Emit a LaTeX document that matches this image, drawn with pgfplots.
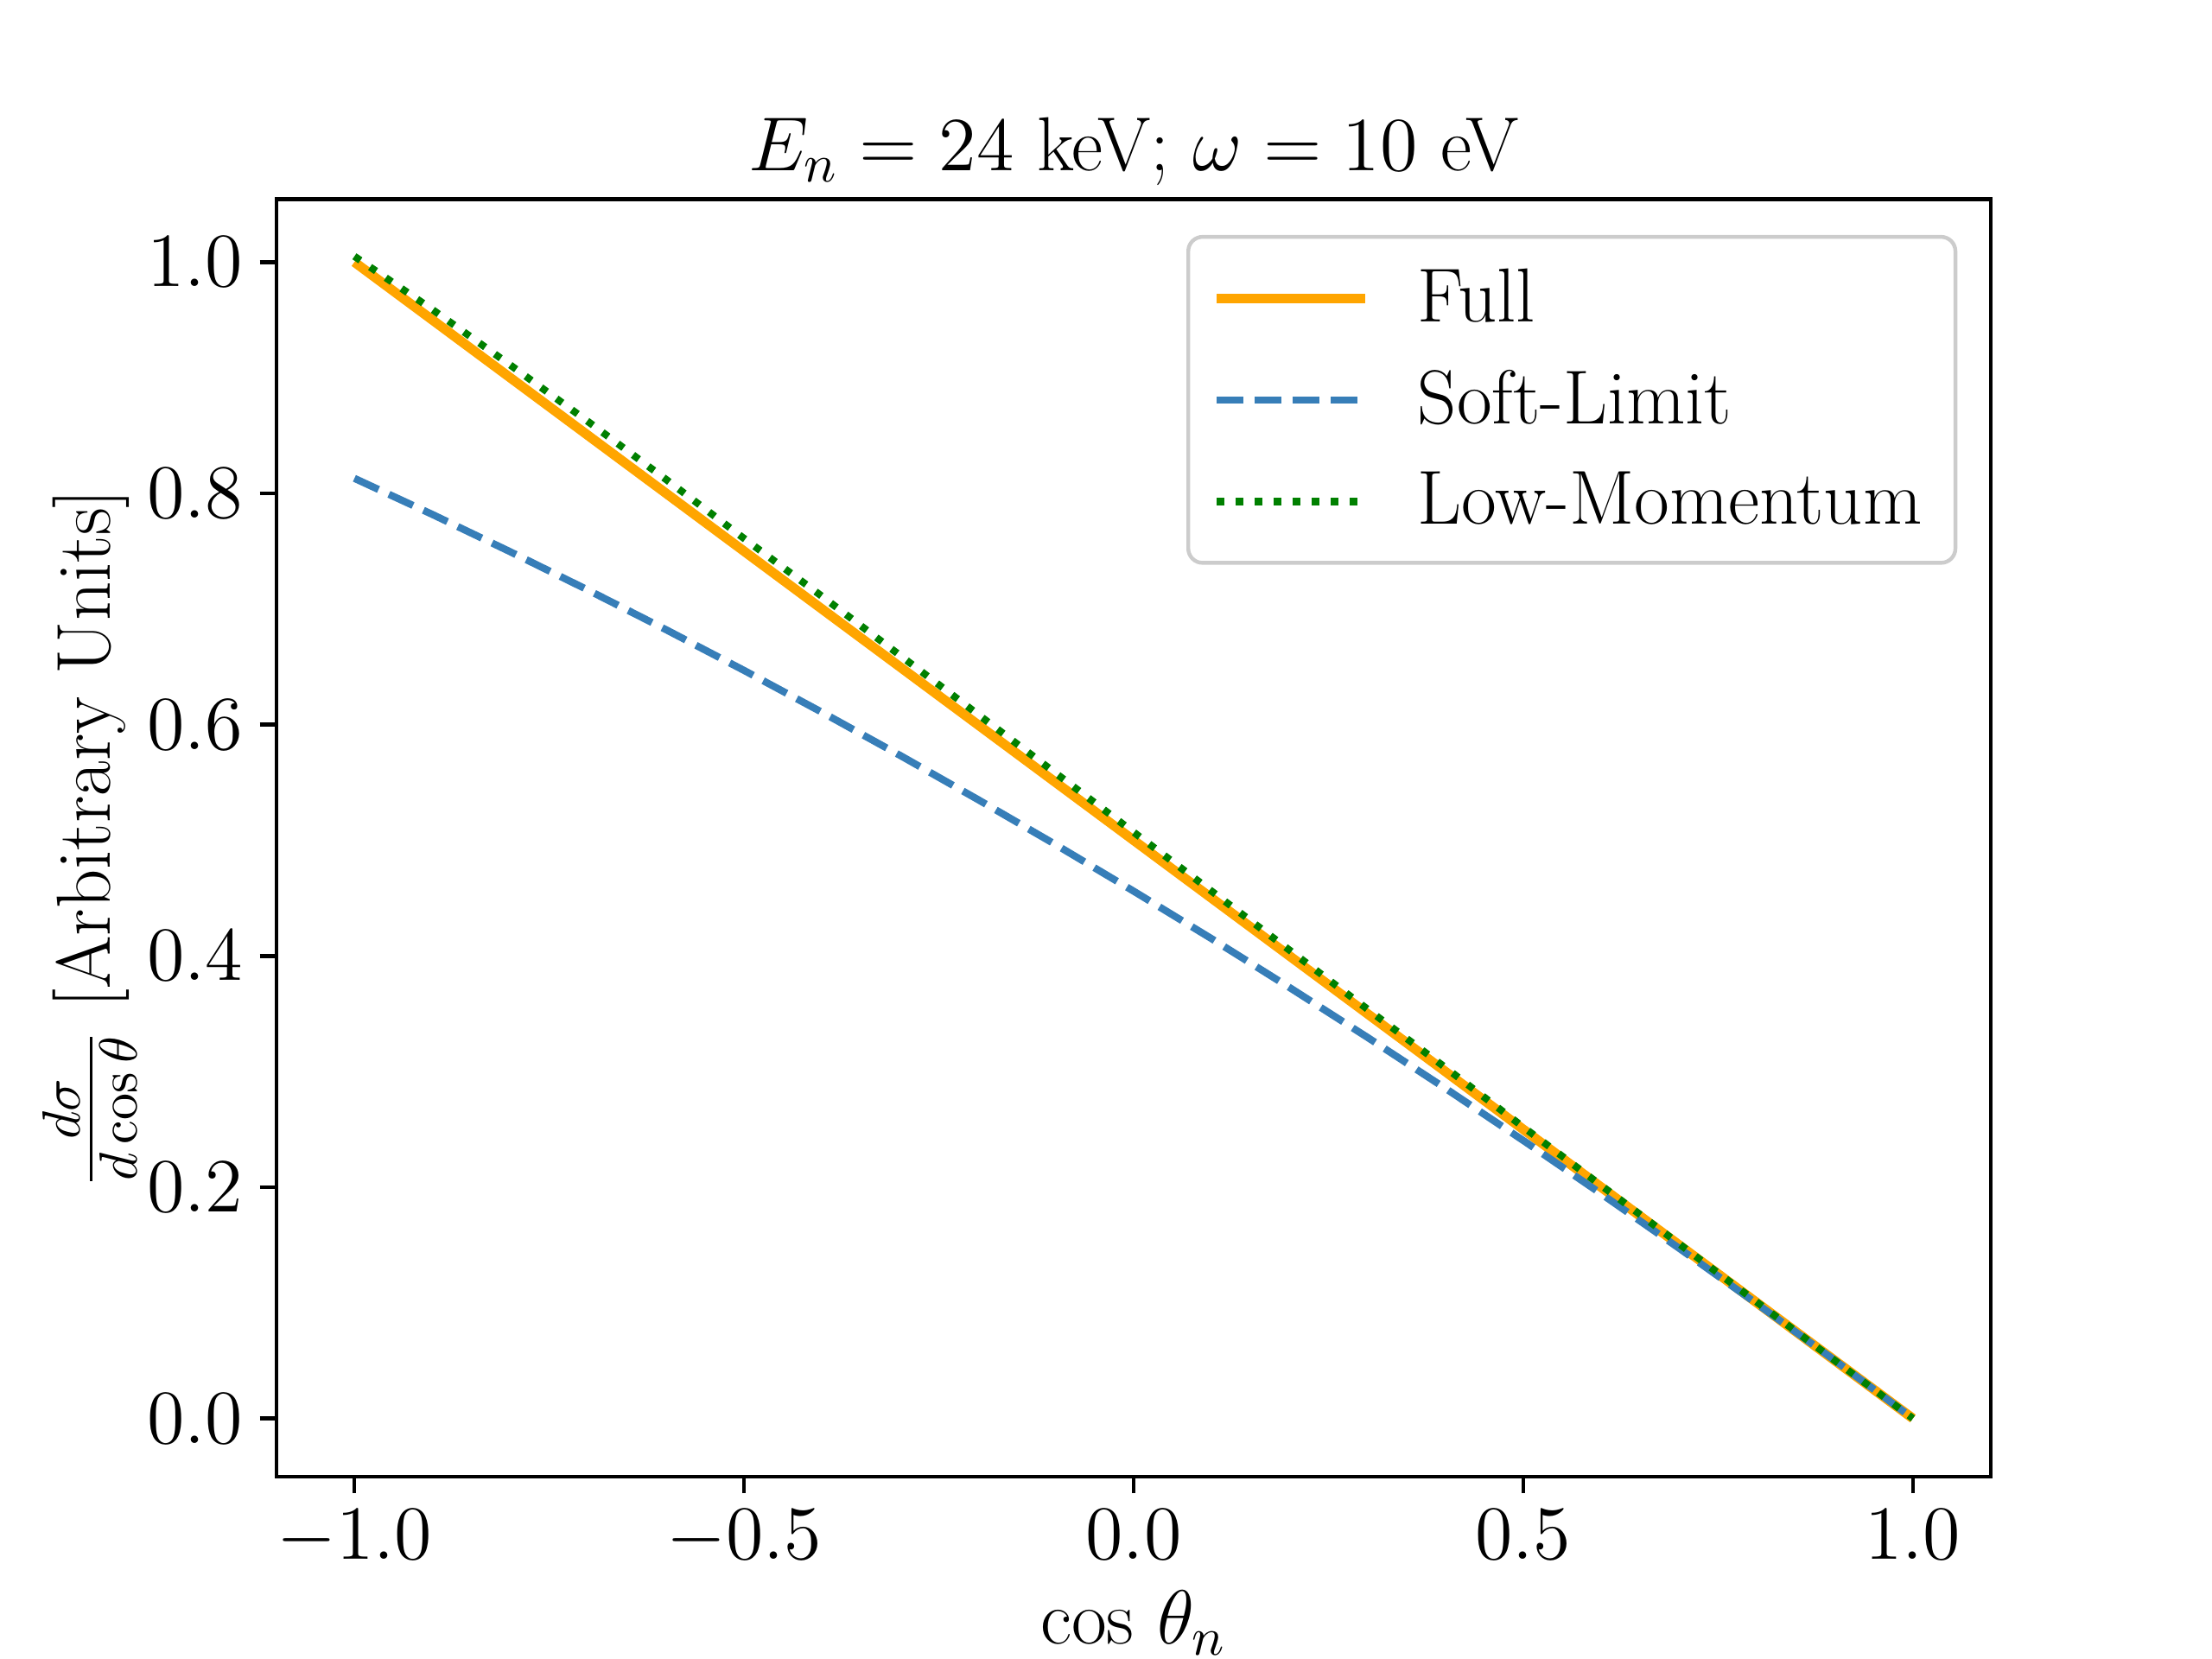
\RequirePackage{fix-cm}
\documentclass[border=0pt]{standalone}
\usepackage{pgfplots}
\pgfplotsset{compat=1.18}
\definecolor{mplorange}{HTML}{FFA500}
\definecolor{mplblue}{HTML}{377EB8}
\definecolor{mplgreen}{HTML}{008000}
\newcommand{\fs}{\fontsize{16}{19.2}\selectfont}
\begin{document}
\begin{tikzpicture}
\useasboundingbox (-0.8in,-0.528in) rectangle (5.6in,4.272in);
\begin{axis}[
  at={(0,0)}, anchor=south west,
  scale only axis, width=4.96in, height=3.696in,
  xmin=-1.1, xmax=1.1, ymin=-0.0502, ymax=1.0545,
  xtick={-1,-0.5,0,0.5,1},
  ytick={0,0.2,0.4,0.6,0.8,1.0},
  xticklabel style={font=\fs,/pgf/number format/.cd,fixed,fixed zerofill,precision=1},
  yticklabel style={font=\fs,/pgf/number format/.cd,fixed,fixed zerofill,precision=1},
  tick align=outside,
  major tick length=3.5pt,
  every tick/.style={black, line width=0.8pt},
  xtick pos=bottom, ytick pos=left,
  axis line style={line width=0.8pt},
  title={$E_n = 24$ keV; $\omega = 10$ eV},
  title style={font=\fs, at={(axis description cs:0.5,1)}, anchor=base},
  xlabel={cos $\theta_n$},
  xlabel style={font=\fs, at={(axis description cs:0.5,-0.1308)}, anchor=base},
  ylabel={$\frac{d\sigma}{d\cos\theta}$ [Arbitrary Units]},
  ylabel style={font=\fs, at={(axis description cs:-0.097,0.5)}, anchor=base},
  legend cell align=left,
  legend image code/.code={\draw[#1] (0pt,0pt) -- (31pt,0pt);},
  legend style={at={(1,1)}, anchor=north east, xshift=-7pt, yshift=-7.5pt,
    draw=black!20, line width=0.8pt, rounded corners=3pt,
    fill=white, fill opacity=0.8, text opacity=1, draw opacity=1,
    font=\fs, inner xsep=5pt, inner ysep=4.6pt, row sep=4.6pt,
    /tikz/every odd column/.append style={column sep=8pt}},
]
\addplot[mplorange, line width=2pt] coordinates {(-1,1) (1,0)};
\addlegendentry{Full}
\addplot[mplblue, line width=1.5pt, dash pattern=on 5.55pt off 2.4pt] coordinates {
(-1.0,0.8130) (-0.9,0.7818) (-0.8,0.7495) (-0.7,0.7163) (-0.6,0.6821)
(-0.5,0.6469) (-0.4,0.6107) (-0.3,0.5735) (-0.2,0.5353) (-0.1,0.4962)
(0.0,0.4560) (0.1,0.4149) (0.2,0.3727) (0.3,0.3296) (0.4,0.2855)
(0.5,0.2404) (0.6,0.1943) (0.7,0.1472) (0.8,0.0991) (0.9,0.0501) (1.0,0.0)};
\addlegendentry{Soft-Limit}
\addplot[mplgreen, line width=1.5pt, dash pattern=on 1.5pt off 2.475pt] coordinates {
(-1.0,1.005) (-0.9,0.959) (-0.8,0.911) (-0.7,0.862) (-0.6,0.812)
(-0.5,0.761) (-0.4,0.711) (-0.3,0.660) (-0.2,0.609) (-0.1,0.558)
(0.0,0.507) (0.1,0.456) (0.2,0.405) (0.3,0.354) (0.4,0.3035)
(0.5,0.252) (0.6,0.2015) (0.7,0.151) (0.8,0.1005) (0.9,0.050) (1.0,0.0)};
\addlegendentry{Low-Momentum}
\end{axis}
\end{tikzpicture}
\end{document}
